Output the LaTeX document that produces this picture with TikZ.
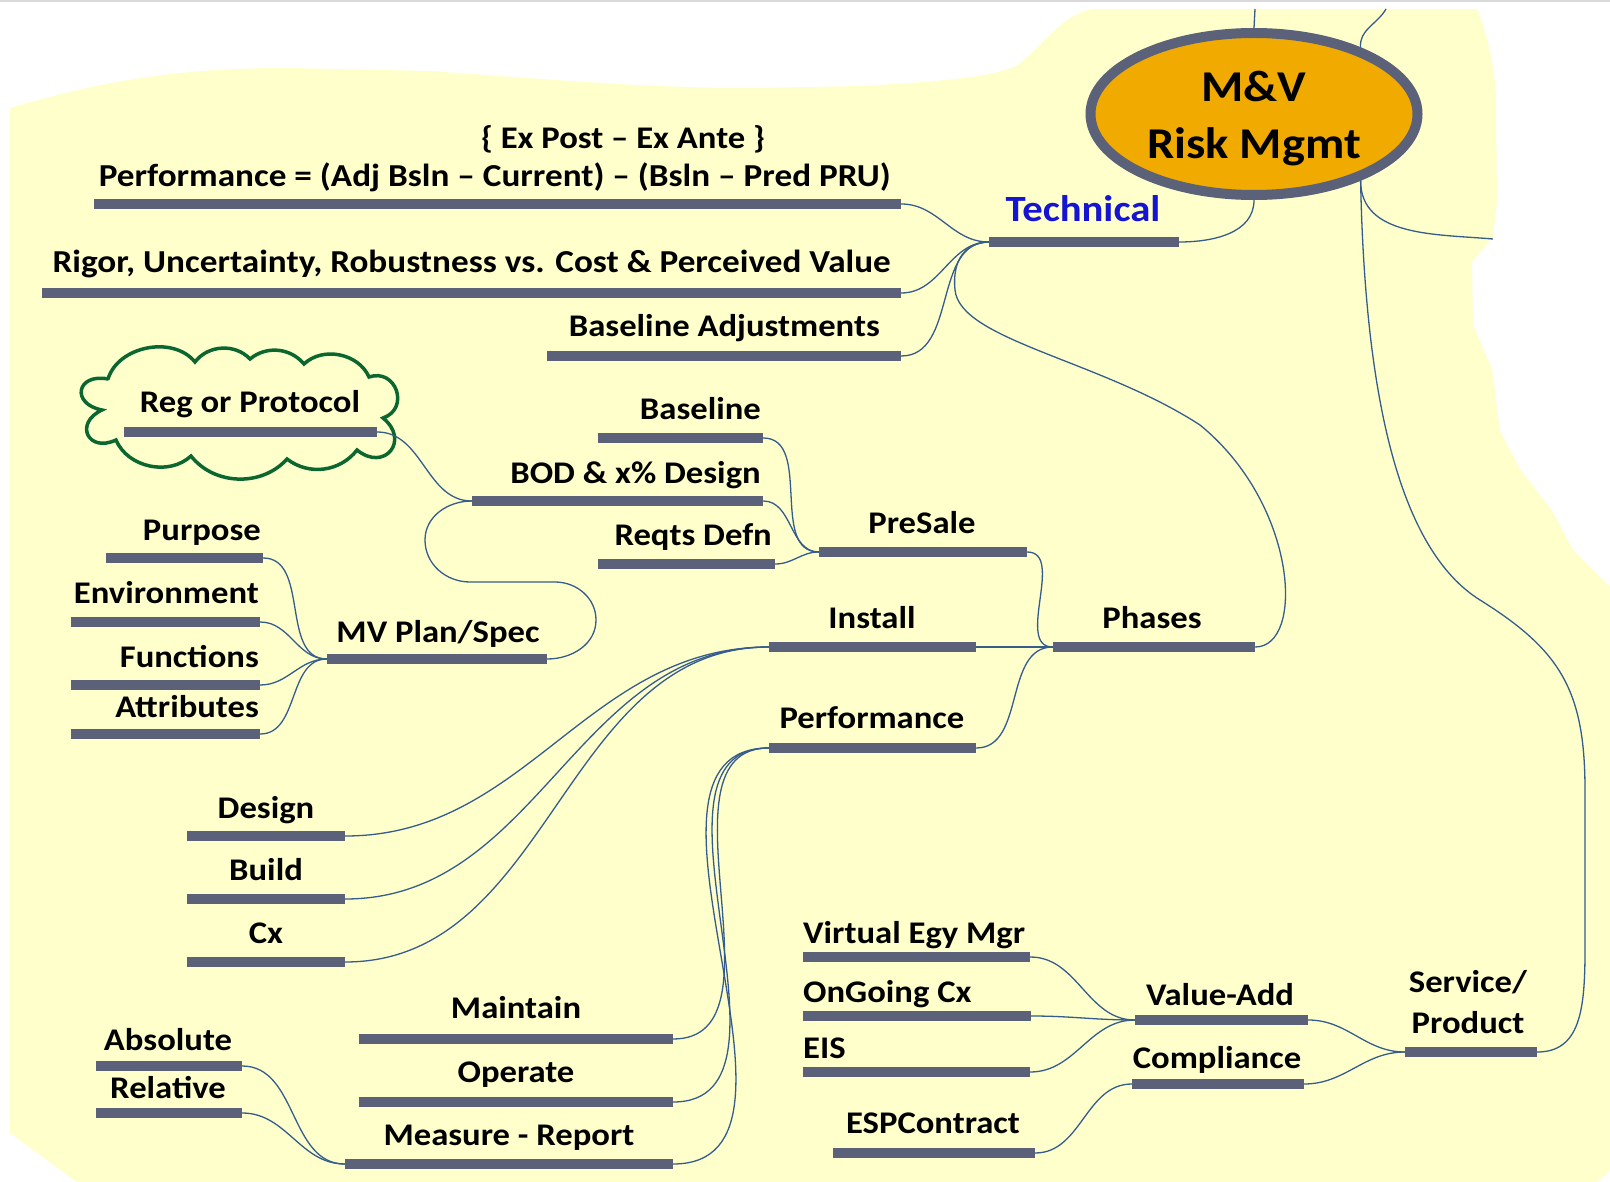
\documentclass[tikz,border=0pt]{standalone}
\usepackage{fontspec}
\setmainfont{Carlito}[FakeStretch=1.1]
\usetikzlibrary{shapes.geometric}

\definecolor{paper}{RGB}{255,255,204}
\definecolor{barcol}{RGB}{90,97,120}
\definecolor{linkcol}{RGB}{52,92,140}
\definecolor{rootfill}{RGB}{240,170,0}
\definecolor{techblue}{RGB}{20,20,210}
\definecolor{cloudgreen}{RGB}{12,102,48}

\tikzset{
  bar/.style={fill=barcol, inner sep=0pt, minimum height=9.5pt},
  lbl/.style={anchor=base, inner sep=0pt, font=\bfseries\fontsize{31.5}{41}\selectfont},
  longlbl/.style={lbl, anchor=base east, font=\bfseries\fontsize{32}{41}\selectfont},
  link/.style={draw=linkcol, line width=1.3pt},
  hub/.style={ellipse, draw=barcol, fill=rootfill, line width=10pt, minimum width=327pt,
    minimum height=162pt, inner sep=0pt},
  hubtext/.style={align=center, inner sep=0pt, font=\bfseries\fontsize{44}{57}\selectfont},
  puffs/.style={draw=cloudgreen, line width=3.5pt, line cap=round},
}

\begin{document}
\begin{tikzpicture}[x=1pt, y=-1pt]
    \useasboundingbox (0,0) rectangle (1610,1182);
    % paper
    \fill[paper] (10,108) .. controls (120,75) and (200,68) .. (290,68) -- (430,71)
        .. controls (560,80) and (650,88) .. (750,88) -- (862,86)
        .. controls (930,82) and (990,78) .. (1016,66) .. controls (1045,45) and (1060,15) .. (1093,9)
        -- (1477,9) .. controls (1490,40) and (1497,80) .. (1496,110) -- (1497,200) -- (1493,237)
        -- (1472,262) -- (1473,325) -- (1492,369) -- (1500,431) -- (1520,469) -- (1553,512)
        -- (1573,550) -- (1610,587) -- (1610,1170) -- (1597,1182) -- (77,1182) -- (10,1133) -- cycle;
    \draw[black!15, line width=2.5pt] (0,1) -- (1610,1);

    % root
    \node[hub] (root) at (1254,114) {};
    \node[hubtext] (root-t) at (1254,119) {M\&V\\Risk Mgmt};
    \coordinate (up1) at (1255,9);
    \coordinate (up2) at (1386,9);
    \coordinate (right1) at (1493,239);

    % technical branch
    \node[bar, minimum width=190] (tech) at (1084,242) {};
    \node[lbl, text=techblue, font=\bfseries\fontsize{37}{44}\selectfont] (tech-t) at (1083,222) {Technical};
    \node[bar, minimum width=807] (perf) at (497.5,204) {};
    \node[longlbl] (perf-t) at (891,187) {Performance = (Adj Bsln -- Current) -- (Bsln -- Pred PRU)};
    \node[lbl] (expost-t) at (623,149) {\{ Ex Post -- Ex Ante \}};
    \node[bar, minimum width=859] (rigor) at (471.5,293) {};
    \node[longlbl] (rigor-t) at (891,273) {Rigor, Uncertainty, Robustness vs. Cost \& Perceived Value};
    \node[bar, minimum width=354] (badj) at (724,356) {};
    \node[lbl, anchor=base east] (badj-t) at (880,337) {Baseline Adjustments};

    % presale
    \draw[puffs] (108,379) to[bend left=62] (195,362) to[bend left=50] (250,359)
        to[bend left=45] (304,364) to[bend left=55] (369,377)
        to[bend left=90, looseness=1.7] (383,418) to[bend left=90, looseness=2.2] (357,450)
        to[bend left=45] (287,459) to[bend left=50] (191,456) to[bend left=55] (116,440)
        to[bend left=90, looseness=2.4] (102,410) to[bend left=90, looseness=2.6] (108,379);
    \node[bar, minimum width=253] (reg) at (250.5,432) {};
    \node[lbl] (reg-t) at (250,413) {Reg or Protocol};
    \node[bar, minimum width=165] (baseline) at (680.5,438) {};
    \node[lbl, anchor=base east] (baseline-t) at (761,420) {Baseline};
    \node[bar, minimum width=291] (bod) at (617.5,501) {};
    \node[lbl, anchor=base east] (bod-t) at (761,483) {BOD \& x\% Design};
    \node[bar, minimum width=177] (reqts) at (686.5,564) {};
    \node[lbl, anchor=base east] (reqts-t) at (772,545) {Reqts Defn};
    \node[bar, minimum width=208] (presale) at (923,552) {};
    \node[lbl] (presale-t) at (922,533) {PreSale};

    % mv plan
    \node[bar, minimum width=220] (mvplan) at (437,659) {};
    \node[lbl] (mvplan-t) at (438,642) {MV Plan/Spec};
    \node[bar, minimum width=157] (purpose) at (184.5,558) {};
    \node[lbl, anchor=base east] (purpose-t) at (261,540) {Purpose};
    \node[bar, minimum width=189] (environment) at (165.5,622) {};
    \node[lbl, anchor=base east] (environment-t) at (259,603) {Environment};
    \node[bar, minimum width=189] (functions) at (165.5,685) {};
    \node[lbl, anchor=base east] (functions-t) at (259,667) {Functions};
    \node[bar, minimum width=189] (attributes) at (165.5,734) {};
    \node[lbl, anchor=base east] (attributes-t) at (259,717) {Attributes};

    % phases
    \node[bar, minimum width=202] (phases) at (1154,647) {};
    \node[lbl] (phases-t) at (1152,628) {Phases};
    \node[bar, minimum width=207] (install) at (872.5,647) {};
    \node[lbl] (install-t) at (872,628) {Install};
    \node[bar, minimum width=207] (perfm) at (872.5,748) {};
    \node[lbl] (perfm-t) at (872,728) {Performance};
    \node[bar, minimum width=158] (design) at (266,836) {};
    \node[lbl] (design-t) at (266,818) {Design};
    \node[bar, minimum width=158] (build) at (266,899) {};
    \node[lbl] (build-t) at (266,880) {Build};
    \node[bar, minimum width=158] (cx) at (266,962) {};
    \node[lbl] (cx-t) at (266,943) {Cx};
    \node[bar, minimum width=314] (maintain) at (516,1039) {};
    \node[lbl] (maintain-t) at (516,1018) {Maintain};
    \node[bar, minimum width=314] (operate) at (516,1102) {};
    \node[lbl] (operate-t) at (516,1082) {Operate};
    \node[bar, minimum width=328] (measure) at (509,1164) {};
    \node[lbl] (measure-t) at (509,1145) {Measure - Report};
    \node[bar, minimum width=146] (absolute) at (169,1066) {};
    \node[lbl] (absolute-t) at (168,1050) {Absolute};
    \node[bar, minimum width=146] (relative) at (169,1113) {};
    \node[lbl] (relative-t) at (168,1098) {Relative};

    % service / product
    \node[bar, minimum width=132] (service) at (1471,1052) {};
    \node[lbl, align=center] (service-t) at (1468,1033) {Service/\\Product};
    \node[bar, minimum width=173] (valueadd) at (1221.5,1020) {};
    \node[lbl] (valueadd-t) at (1220,1005) {Value-Add};
    \node[bar, minimum width=172] (compliance) at (1218,1084) {};
    \node[lbl] (compliance-t) at (1217,1068) {Compliance};
    \node[bar, minimum width=227] (vem) at (916.5,957) {};
    \node[lbl, anchor=base west] (vem-t) at (803,943) {Virtual Egy Mgr};
    \node[bar, minimum width=228] (ongoing) at (917,1016) {};
    \node[lbl, anchor=base west] (ongoing-t) at (803,1002) {OnGoing Cx};
    \node[bar, minimum width=227] (eis) at (916.5,1072) {};
    \node[lbl, anchor=base west] (eis-t) at (803,1058) {EIS};
    \node[bar, minimum width=202] (esp) at (934,1153) {};
    \node[lbl] (esp-t) at (933,1133) {ESPContract};

    % connectors
    \draw[link] (root.north) -- (up1);
    \draw[link] (root.32) to[out=95,in=-120] (up2);
    \draw[link] (root.-32) to[out=-90,in=175] (right1);
    \draw[link] (tech.east) to[out=0,in=-90] (root.south);
    \draw[link] (tech.west) to[out=180,in=0] (perf.east);
    \draw[link] (tech.west) to[out=180,in=0] (rigor.east);
    \draw[link] (tech.west) to[out=180,in=0] (badj.east);
    \draw[link] (phases.east) .. controls (1305,647) and (1298,505) .. (1200,425)
        .. controls (1100,360) and (960,340) .. (955,290)
        .. controls (952,260) and (965,243) .. (tech.west);
    \draw[link] (presale.east) to[out=0,in=180] (phases.west);
    \draw[link] (install.east) to[out=0,in=180] (phases.west);
    \draw[link] (perfm.east) to[out=0,in=180] (phases.west);
    \draw[link] (baseline.east) to[out=0,in=180] (presale.west);
    \draw[link] (bod.east) to[out=0,in=180] (presale.west);
    \draw[link] (reqts.east) to[out=0,in=180] (presale.west);
    \draw[link] (reg.east) to[out=0,in=180] (bod.west);
    \draw[link] (bod.west) to[out=180,in=90] (425,540) to[out=-90,in=180] (470,582)
        -- (555,582) to[out=0,in=90] (596,620) to[out=-90,in=0] (mvplan.east);
    \foreach \leaf in {purpose,environment,functions,attributes}
        \draw[link] (\leaf.east) to[out=0,in=180] (mvplan.west);
    \foreach \leaf in {design,build,cx}
        \draw[link] (\leaf.east) to[out=0,in=180] (install.west);
    \foreach \leaf in {maintain,operate,measure}
        \draw[link] (\leaf.east) to[out=0,in=180] (perfm.west);
    \foreach \leaf in {absolute,relative}
        \draw[link] (\leaf.east) to[out=0,in=180] (measure.west);
    \foreach \leaf in {vem,ongoing,eis}
        \draw[link] (\leaf.east) to[out=0,in=180] (valueadd.west);
    \draw[link] (esp.east) to[out=0,in=180] (compliance.west);
    \draw[link] (valueadd.east) to[out=0,in=180] (service.west);
    \draw[link] (compliance.east) to[out=0,in=180] (service.west);
    \draw[link] (service.east) .. controls (1580,1052) and (1585,1010) .. (1585,950)
        -- (1585,790) .. controls (1585,690) and (1560,650) .. (1480,600)
        .. controls (1400,550) and (1365,400) .. (root.-32);
\end{tikzpicture}
\end{document}
